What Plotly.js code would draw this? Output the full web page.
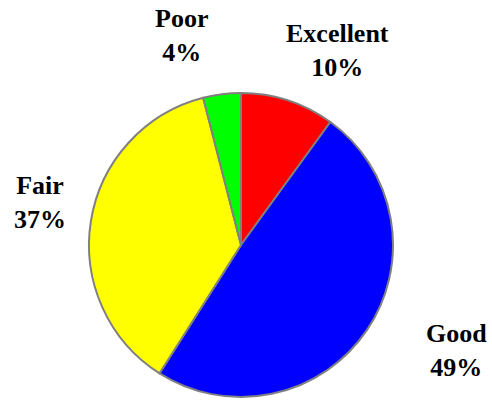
<!DOCTYPE html>
<html>
<head>
<meta charset="utf-8">
<script src="https://cdn.plot.ly/plotly-3.0.1.min.js"></script>
<style>html,body{margin:0;padding:0;background:#fff;}#chart{width:492px;height:400px;}</style>
</head>
<body>
<div id="chart"></div>
<script>
const categories = ["Excellent", "Good", "Fair", "Poor"];
const percents = [10, 49, 37, 4];
const sliceColors = ["#ff0000", "#0000ff", "#ffff00", "#00ff00"];

// label anchor positions in pixels (x, y) for each category
const labelPixelX = [337, 456, 40, 181];
const labelPixelY = [51, 350, 202, 35];

const W = 492, H = 400;

const trace = {
  type: "pie",
  labels: categories,
  values: percents,
  sort: false,
  direction: "clockwise",
  rotation: 0,
  textinfo: "none",
  hoverinfo: "label+percent",
  marker: { colors: sliceColors, line: { color: "#808080", width: 2 } },
  domain: { x: [89 / W, 393 / W], y: [1 - 397 / H, 1 - 93 / H] },
  showlegend: false
};

const annotations = categories.map((c, i) => ({
  xref: "paper", yref: "paper",
  x: labelPixelX[i] / W, y: 1 - labelPixelY[i] / H,
  xanchor: "center", yanchor: "middle",
  text: c + "<br>" + percents[i] + "%",
  showarrow: false,
  font: { family: "Liberation Serif", size: 26, color: "#000", weight: "bold" }
}));

const layout = {
  width: W, height: H,
  margin: { l: 0, r: 0, t: 0, b: 0 },
  paper_bgcolor: "#fff",
  showlegend: false,
  annotations: annotations
};

Plotly.newPlot("chart", [trace], layout, { displayModeBar: false, staticPlot: true });
</script>
</body>
</html>
